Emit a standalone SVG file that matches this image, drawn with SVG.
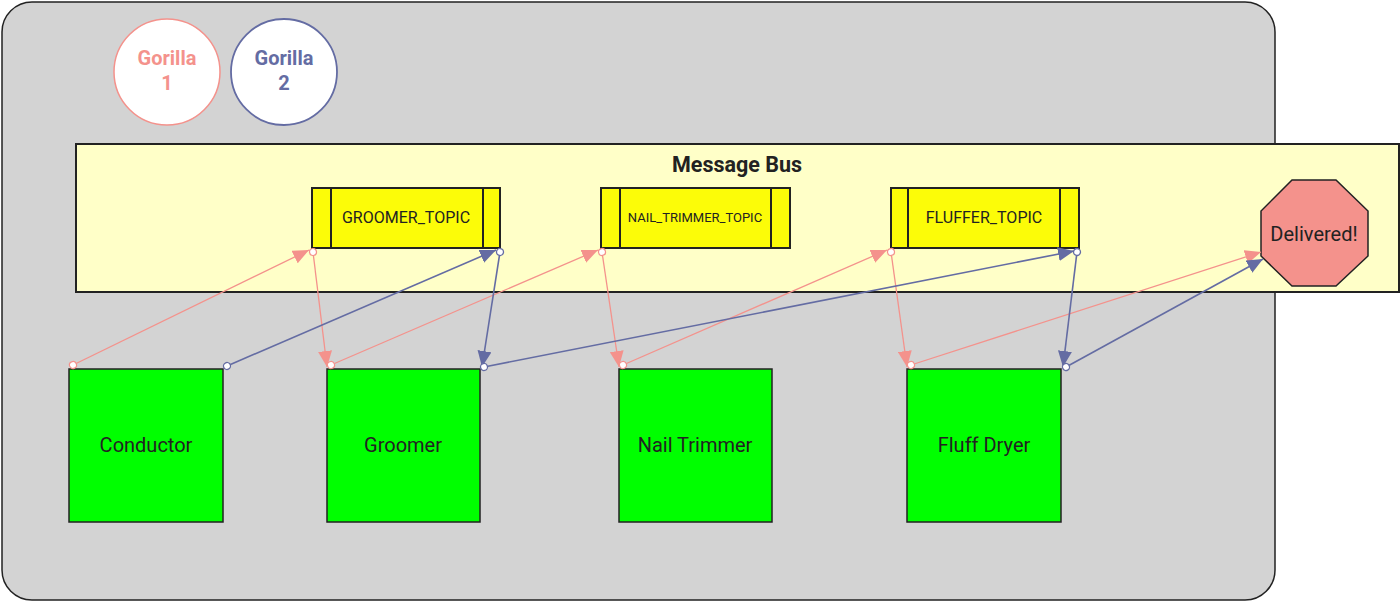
<svg xmlns="http://www.w3.org/2000/svg" width="1400" height="602" viewBox="0 0 1400 602">
<style>
.t{font-family:Roboto,"Liberation Sans",sans-serif;fill:#222}
.topic{fill:#fcfc08;stroke:#222;stroke-width:2}
.div{stroke:#222;stroke-width:2}
.proc{fill:#00ff00;stroke:#222;stroke-width:1.5}
.pk{stroke:#f4928c;stroke-width:1.3;fill:none;marker-start:url(#cp);marker-end:url(#ap)}
.bl{stroke:#646ca3;stroke-width:1.6;fill:none;marker-start:url(#cb);marker-end:url(#ab)}
</style>
<defs>
<marker id="ap" markerUnits="userSpaceOnUse" markerWidth="18" markerHeight="14" refX="16" refY="7" orient="auto"><path d="M0,0 L16,7 L0,14 z" fill="#f4928c"/></marker>
<marker id="ab" markerUnits="userSpaceOnUse" markerWidth="18" markerHeight="14" refX="16" refY="7" orient="auto"><path d="M0,0 L16,7 L0,14 z" fill="#646ca3"/></marker>
<marker id="cp" markerUnits="userSpaceOnUse" markerWidth="10" markerHeight="10" refX="5" refY="5" orient="auto"><circle cx="5" cy="5" r="3.5" fill="#fff" stroke="#f4928c" stroke-width="1.2"/></marker>
<marker id="cb" markerUnits="userSpaceOnUse" markerWidth="10" markerHeight="10" refX="5" refY="5" orient="auto"><circle cx="5" cy="5" r="3.5" fill="#fff" stroke="#646ca3" stroke-width="1.3"/></marker>
</defs>
<rect width="1400" height="602" fill="#fff"/>
<g id="container"><rect x="2" y="2" width="1273" height="598" rx="30" ry="30" fill="#d3d3d3" stroke="#222" stroke-width="1.5"/></g>
<g id="gorilla1"><circle cx="167" cy="72" r="53" fill="#fff" stroke="#f4928c" stroke-width="1.5"/><text class="t" x="167" y="65" text-anchor="middle" font-size="20" font-weight="700" style="fill:#f4928c">Gorilla</text><text class="t" x="167" y="90" text-anchor="middle" font-size="20" font-weight="700" style="fill:#f4928c">1</text></g>
<g id="gorilla2"><circle cx="284" cy="72" r="53" fill="#fff" stroke="#646ca3" stroke-width="1.8"/><text class="t" x="284" y="65" text-anchor="middle" font-size="20" font-weight="700" style="fill:#646ca3">Gorilla</text><text class="t" x="284" y="90" text-anchor="middle" font-size="20" font-weight="700" style="fill:#646ca3">2</text></g>
<g id="bus"><rect x="76" y="144" width="1323" height="148" fill="#ffffc8" stroke="#222" stroke-width="2"/><text class="t" x="737" y="172" text-anchor="middle" font-size="21.5" font-weight="700">Message Bus</text></g>
<g id="groomer_topic"><rect class="topic" x="312" y="188" width="188" height="60"/><line class="div" x1="331" y1="188" x2="331" y2="248"/><line class="div" x1="483" y1="188" x2="483" y2="248"/><text class="t" x="406" y="223" text-anchor="middle" font-size="16">GROOMER_TOPIC</text></g>
<g id="nail_trimmer_topic"><rect class="topic" x="601" y="188" width="189" height="60"/><line class="div" x1="620" y1="188" x2="620" y2="248"/><line class="div" x1="771" y1="188" x2="771" y2="248"/><text class="t" x="695" y="222" text-anchor="middle" font-size="13">NAIL_TRIMMER_TOPIC</text></g>
<g id="fluffer_topic"><rect class="topic" x="891" y="188" width="188" height="60"/><line class="div" x1="908" y1="188" x2="908" y2="248"/><line class="div" x1="1060" y1="188" x2="1060" y2="248"/><text class="t" x="984" y="223" text-anchor="middle" font-size="16">FLUFFER_TOPIC</text></g>
<g id="delivered"><polygon points="1292,180 1336,180 1368,211 1368,256 1336,286 1292,286 1261,256 1261,211" fill="#f4928c" stroke="#222" stroke-width="1.5"/><text class="t" x="1314" y="241" text-anchor="middle" font-size="20">Delivered!</text></g>
<g id="conductor"><rect class="proc" x="69" y="369" width="154" height="153"/><text class="t" x="146" y="452" text-anchor="middle" font-size="20">Conductor</text></g>
<g id="groomer"><rect class="proc" x="327" y="369" width="153" height="153"/><text class="t" x="403" y="452" text-anchor="middle" font-size="20">Groomer</text></g>
<g id="nail_trimmer"><rect class="proc" x="619" y="369" width="153" height="153"/><text class="t" x="695" y="452" text-anchor="middle" font-size="20">Nail Trimmer</text></g>
<g id="fluff_dryer"><rect class="proc" x="907" y="369" width="154" height="153"/><text class="t" x="984" y="452" text-anchor="middle" font-size="20">Fluff Dryer</text></g>
<g id="connectors">
<line class="pk" x1="73" y1="365" x2="309" y2="250"/>
<line class="pk" x1="313" y1="252" x2="327" y2="367"/>
<line class="pk" x1="331" y1="365" x2="598" y2="250"/>
<line class="pk" x1="602" y1="252" x2="619" y2="367"/>
<line class="pk" x1="623" y1="365" x2="887" y2="250"/>
<line class="pk" x1="891" y1="252" x2="907" y2="367"/>
<line class="pk" x1="911" y1="365" x2="1261" y2="252"/>
<line class="bl" x1="227" y1="366" x2="496" y2="250"/>
<line class="bl" x1="500" y1="252" x2="482" y2="367"/>
<line class="bl" x1="484" y1="367" x2="1074" y2="251"/>
<line class="bl" x1="1077" y1="252" x2="1063" y2="367"/>
<line class="bl" x1="1066" y1="367" x2="1263" y2="259"/>
</g>
</svg>
